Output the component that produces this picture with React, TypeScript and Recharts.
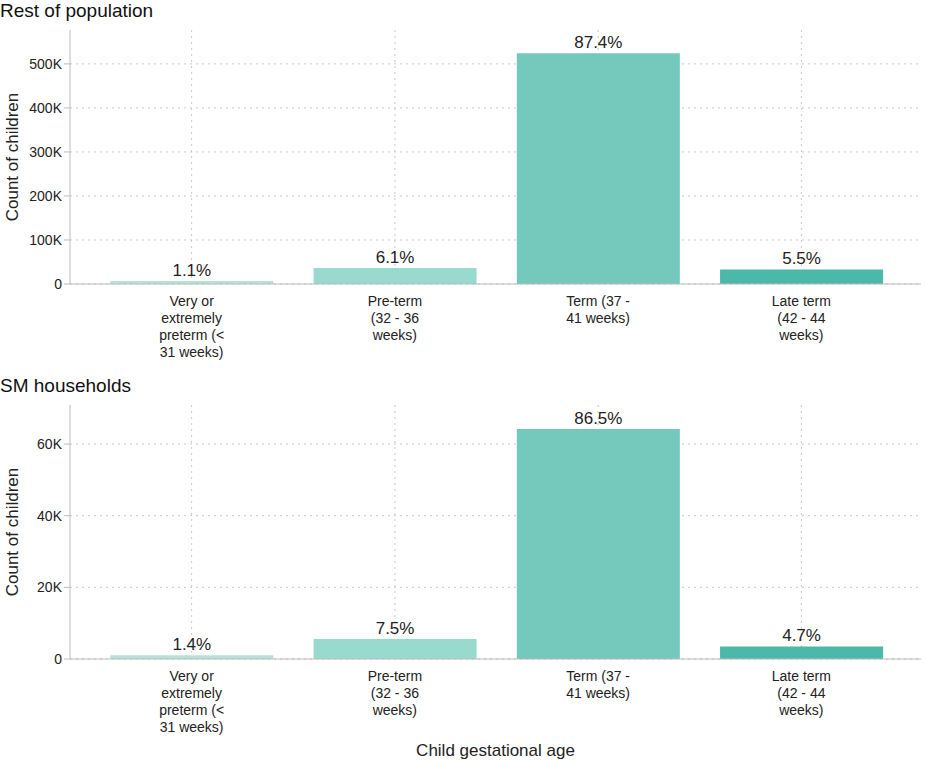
import React from "react";
import {
  BarChart,
  Bar,
  XAxis,
  YAxis,
  CartesianGrid,
  LabelList,
  Cell,
} from "recharts";

const categories = [
  "Very or\nextremely\npreterm (<\n31 weeks)",
  "Pre-term\n(32 - 36\nweeks)",
  "Term (37 -\n41 weeks)",
  "Late term\n(42 - 44\nweeks)",
];
const restCounts = [6600, 36600, 524000, 33000];
const restPct = ["1.1%", "6.1%", "87.4%", "5.5%"];
const smCounts = [1040, 5560, 64200, 3490];
const smPct = ["1.4%", "7.5%", "86.5%", "4.7%"];
const colors = ["#b4e2da", "#98dacd", "#74c8bc", "#4bb8a9"];

const restData = categories.map((c, i) => ({ cat: c, value: restCounts[i], pct: restPct[i] }));
const smData = categories.map((c, i) => ({ cat: c, value: smCounts[i], pct: smPct[i] }));

const fmtK = (v: number) => (v === 0 ? "0" : `${v / 1000}K`);

const MultiTick = (props: any) => {
  const { x, y, payload } = props;
  const lines = String(payload.value).split("\n");
  return (
    <text x={x} y={y + 14} textAnchor="middle" fontSize={14} fill="#222">
      {lines.map((l, i) => (
        <tspan key={i} x={x} dy={i === 0 ? 0 : 17}>
          {l}
        </tspan>
      ))}
    </text>
  );
};

const Panel = ({ data, max, ticks, title, top, showLabel }: any) => (
  <div style={{ position: "absolute", left: 0, top }}>
    <div style={{ position: "absolute", left: 0, top: 0, fontSize: 19, color: "#111" }}>{title}</div>
    <BarChart
      width={925}
      height={showLabel ? 385 : 365}
      data={data}
      margin={{ top: 30, right: 4, left: 0, bottom: 0 }}
      barCategoryGap="10%"
    >
      <CartesianGrid stroke="#c8c8c8" strokeDasharray="2 4" syncWithTicks />
      <XAxis
        dataKey="cat"
        tick={<MultiTick />}
        tickLine={false}
        stroke="#bbb"
        height={showLabel ? 101 : 81}
        interval={0}
        padding={{ left: 20, right: 18 }}
        label={
          showLabel
            ? { value: "Child gestational age", position: "insideBottom", offset: 4, fontSize: 17, fill: "#222" }
            : undefined
        }
      />
      <YAxis
        domain={[0, max]}
        ticks={ticks}
        tickFormatter={fmtK}
        width={70}
        stroke="#bbb"
        tick={{ fontSize: 14, fill: "#222" }}
        label={{ value: "Count of children", angle: -90, position: "insideLeft", offset: 12, textAnchor: "middle", fontSize: 17, fill: "#222" }}
      />
      <Bar dataKey="value" isAnimationActive={false}>
        {data.map((_: any, i: number) => (
          <Cell key={i} fill={colors[i]} />
        ))}
        <LabelList dataKey="pct" position="top" fontSize={17} fill="#222" />
      </Bar>
    </BarChart>
  </div>
);

export default function App() {
  return (
    <div style={{ position: "absolute", left: 0, top: 0, width: 925, height: 760, fontFamily: "Liberation Sans, Arial, sans-serif", background: "#fff" }}>
      <Panel data={restData} max={577000} ticks={[0, 100000, 200000, 300000, 400000, 500000]} title="Rest of population" top={0} />
      <Panel data={smData} max={70900} ticks={[0, 20000, 40000, 60000]} title="SM households" top={375} showLabel />
    </div>
  );
}
